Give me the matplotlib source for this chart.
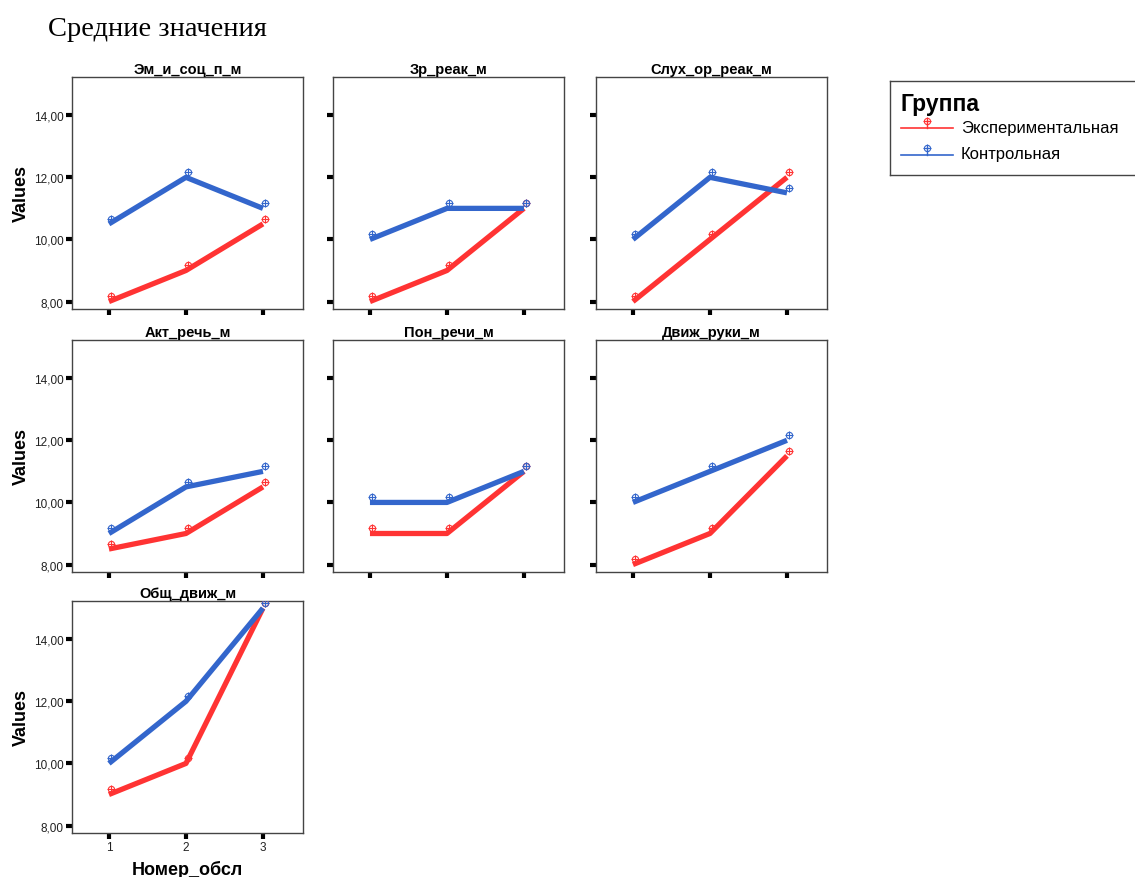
import matplotlib.pyplot as plt
from matplotlib.transforms import offset_copy

plt.rcParams['font.family'] = ['Liberation Sans', 'DejaVu Sans']

sessions = [1, 2, 3]
panel_titles = ['Эм_и_соц_п_м', 'Зр_реак_м', 'Слух_ор_реак_м',
                'Акт_речь_м', 'Пон_речи_м', 'Движ_руки_м', 'Общ_движ_м']
exp_means = [
    [8, 9, 10.5],
    [8, 9, 11],
    [8, 10, 12],
    [8.5, 9, 10.5],
    [9, 9, 11],
    [8, 9, 11.5],
    [9, 10, 15],
]
ctrl_means = [
    [10.5, 12, 11],
    [10, 11, 11],
    [10, 12, 11.5],
    [9, 10.5, 11],
    [10, 10, 11],
    [10, 11, 12],
    [10, 12, 15],
]
yticks = [8, 10, 12, 14]
ytick_labels = ['8,00', '10,00', '12,00', '14,00']
group_names = ['Экспериментальная', 'Контрольная']

RED = '#ff3333'
BLUE = '#3366cc'

W, H = 1135, 878
fig = plt.figure(figsize=(W / 100, H / 100), dpi=100)
fig.patch.set_facecolor('white')

lefts = [72, 333, 596]
tops = [78, 341, 602]
pw, ph = 231, 232


def draw_series(ax, ys, color):
    ax.plot(sessions, ys, color=color, lw=3.8, solid_capstyle='butt', zorder=2)
    tr = offset_copy(ax.transData, fig=fig, x=1.2, y=3.8, units='points')
    ax.plot(sessions, ys, ls='none', marker='o', ms=4.5, mfc='none',
            mec=color, mew=0.8, transform=tr, zorder=3)
    ax.plot(sessions, ys, ls='none', marker='+', ms=6, mec=color,
            mew=0.8, transform=tr, zorder=3)


for i, title in enumerate(panel_titles):
    r, c = divmod(i, 3)
    ax = fig.add_axes([lefts[c] / W, 1 - (tops[r] + ph) / H, pw / W, ph / H])
    draw_series(ax, exp_means[i], RED)
    draw_series(ax, ctrl_means[i], BLUE)
    ax.set_xlim(0.52, 3.52)
    ax.set_ylim(7.76, 15.23)
    ax.set_xticks(sessions)
    ax.set_yticks(yticks)
    ax.tick_params(length=4, width=3, color='black', labelsize=8.5,
                   labelcolor='#222222', pad=2)
    if c == 0:
        ax.set_yticklabels(ytick_labels)
        ax.set_ylabel('Values', fontsize=13, fontweight='bold', labelpad=3)
    else:
        ax.set_yticklabels([])
    if i == 6:
        ax.set_xticklabels([str(s) for s in sessions])
        ax.set_xlabel('Номер_обсл', fontsize=13, fontweight='bold', labelpad=5)
    else:
        ax.set_xticklabels([])
    for sp in ax.spines.values():
        sp.set_color('#444444')
        sp.set_linewidth(1.0)
    ax.set_title(title, fontsize=10.5, fontweight='bold', pad=3)

fig.text(48 / W, 1 - 30 / H, 'Средние значения', fontsize=20.5,
         family=['Liberation Serif', 'DejaVu Serif'], va='center', ha='left')

# legend box
lax = fig.add_axes([890 / W, 1 - 176 / H, 260 / W, 94 / H])
lax.set_xlim(0, 260)
lax.set_ylim(94, 0)
lax.set_xticks([])
lax.set_yticks([])
for sp in lax.spines.values():
    sp.set_color('#444444')
    sp.set_linewidth(1.0)
lax.text(10, 22, 'Группа', fontsize=16.5, fontweight='bold', va='center')
for k, (name, color) in enumerate(zip(group_names, [RED, BLUE])):
    y = 47 + k * 27
    lax.plot([11, 63], [y, y], color=color, lw=1.2)
    lax.plot([37, 37], [y, y - 8], color=color, lw=1.0)
    lax.plot([37], [y - 7], marker='o', ms=4.5, mfc='none', mec=color, mew=0.8)
    lax.plot([37], [y - 7], marker='+', ms=6, mec=color, mew=0.8)
    lax.text(71, y - 1, name, fontsize=12, va='center')

fig.savefig('out.png', dpi=100)
